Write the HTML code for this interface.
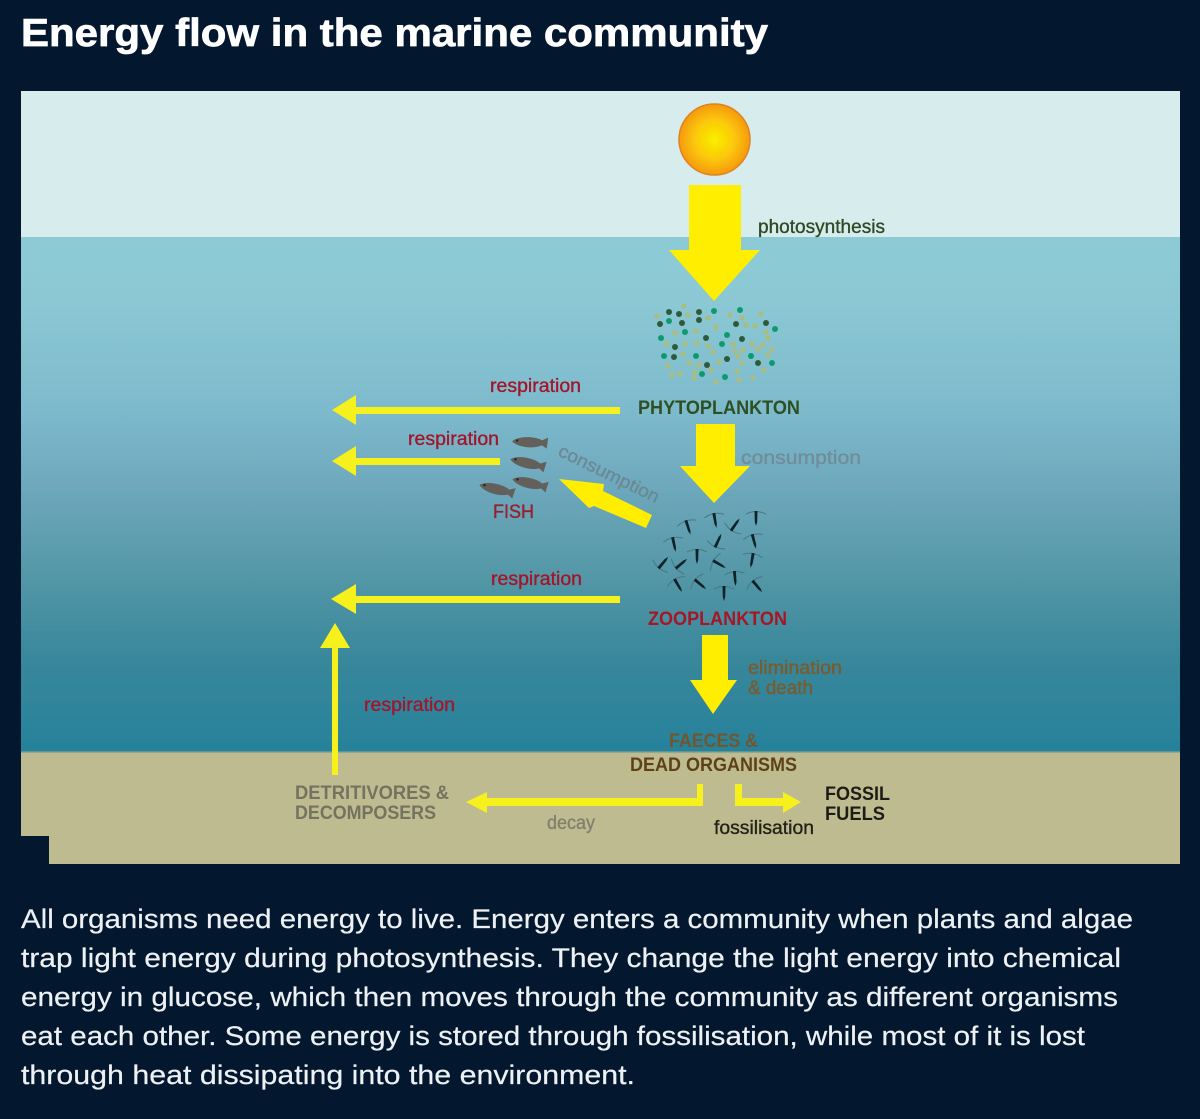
<!DOCTYPE html>
<html><head><meta charset="utf-8"><style>
html,body{margin:0;padding:0;background:#03182f;width:1200px;height:1119px;overflow:hidden}
svg{display:block}
text{font-family:"Liberation Sans",sans-serif}
.b{font-weight:bold}
.m{stroke-width:.35px}
.p{font-size:26.5px;fill:#eef1f4;stroke:#eef1f4;stroke-width:.2px}
</style></head><body>
<svg width="1200" height="1119" viewBox="0 0 1200 1119" xmlns="http://www.w3.org/2000/svg">
<defs>
<linearGradient id="w" gradientUnits="userSpaceOnUse" x1="0" y1="237" x2="0" y2="752">
<stop offset="0" stop-color="#8ccbd6"/><stop offset=".13" stop-color="#8bc8d4"/><stop offset=".345" stop-color="#7cb9cc"/><stop offset=".475" stop-color="#6fa9bd"/><stop offset=".65" stop-color="#5598a8"/><stop offset=".82" stop-color="#38879b"/><stop offset="1" stop-color="#26829b"/>
</linearGradient>
<radialGradient id="s"><stop offset="0" stop-color="#f8f000"/><stop offset=".55" stop-color="#fcc808"/><stop offset="1" stop-color="#f59a0c"/></radialGradient>
<filter id="bl" x="0" y="0" width="1" height="1"><feGaussianBlur stdDeviation=".35"/></filter>
<g id="fish"><path d="M-18 0C-12-6 6-6 12-2L18-5 17 6 12 3C4 7-12 6-18 0Z" fill="#635f5a"/><circle cx="-13" cy="-1" r="1.200" fill="#1d2a2a"/></g>
<g id="z"><path d="M-10-4Q0-9 10-4" fill="none" stroke="#4a7784" stroke-width="1"/><path d="M-1.500-7L1.500-7 1.200 4 0 8-1.200 4Z" fill="#10242a"/></g>
</defs>
<rect width="1200" height="1119" fill="#03182f"/>
<text x="21" y="46" font-size="39" font-weight="bold" fill="#fff" stroke="#fff" stroke-width=".7" textLength="747" lengthAdjust="spacingAndGlyphs">Energy flow in the marine community</text>

<g filter="url(#bl)">
<rect x="21" y="91" width="1159" height="147" fill="#d7ecec"/>
<rect x="21" y="237" width="1159" height="516" fill="url(#w)"/>
<path d="M21 752H1180V864H49V836H21Z" fill="#bfbb91"/>
<rect x="21" y="751" width="1159" height="1.500" fill="#5f9490"/>

<circle cx="714.500" cy="139.500" r="35.500" fill="url(#s)" stroke="#dd8420" stroke-width="1.500"/>

<g fill="#ffee00">
<polygon points="689,185 741,185 741,250 760,250 714,301 669,250 689,250"/>
<polygon points="696,424 735,424 735,466 750,466 714,503 680,466 696,466"/>
<polygon points="559,479 604,484 603,491 652,515 646,528 594,506 589,508"/>
<polygon points="702,635 728,635 728,680 737,680 713,714 690,680 702,680"/>
</g>
<g fill="#f6f01c">
<polygon points="620,407 620,414 356,414 356,425 332,410 356,395 356,407"/>
<polygon points="500,458 500,465 356,465 356,476 332,461 356,446 356,458"/>
<polygon points="620,596 620,603 356,603 356,614 331,599 356,584 356,596"/>
<polygon points="332,775 338,775 338,648 350,648 335,623 320,648 332,648"/>
<polygon points="697,784 703,784 703,806 487,806 487,813 466,802 487,792 487,798 697,798"/>
<polygon points="735,784 742,784 742,798 783,798 783,792 801,802 783,813 783,806 735,806"/>
</g>

<g fill="#2f5a3a"><circle cx="669" cy="312" r="3"/><circle cx="679" cy="314" r="3"/><circle cx="699" cy="312" r="3"/><circle cx="660" cy="324" r="3"/><circle cx="682" cy="323" r="3"/><circle cx="699" cy="320" r="3"/><circle cx="736" cy="324" r="3"/><circle cx="766" cy="323" r="3"/><circle cx="706" cy="338" r="3"/><circle cx="742" cy="339" r="3"/><circle cx="675" cy="347" r="3"/><circle cx="674" cy="357" r="3"/><circle cx="727" cy="359" r="3"/><circle cx="758" cy="363" r="3"/><circle cx="707" cy="365" r="3"/></g>
<g fill="#0e9a70"><circle cx="714" cy="311" r="3"/><circle cx="740" cy="310" r="3"/><circle cx="669" cy="321" r="3"/><circle cx="775" cy="329" r="3"/><circle cx="685" cy="332" r="3"/><circle cx="661" cy="338" r="3"/><circle cx="727" cy="335" r="3"/><circle cx="722" cy="344" r="3"/><circle cx="664" cy="356" r="3"/><circle cx="696" cy="356" r="3"/><circle cx="751" cy="356" r="3"/><circle cx="772" cy="363" r="3"/><circle cx="702" cy="374" r="3"/><circle cx="725" cy="377" r="3"/></g>
<g fill="#a8bd86"><circle cx="684" cy="306" r="2.800"/><circle cx="657" cy="316" r="2.800"/><circle cx="688" cy="315" r="2.800"/><circle cx="708" cy="318" r="2.800"/><circle cx="730" cy="315" r="2.800"/><circle cx="742" cy="318" r="2.800"/><circle cx="761" cy="314" r="2.800"/><circle cx="675" cy="333" r="2.800"/><circle cx="696" cy="331" r="2.800"/><circle cx="716" cy="327" r="2.800"/><circle cx="746" cy="325" r="2.800"/><circle cx="755" cy="326" r="2.800"/><circle cx="766" cy="332" r="2.800"/><circle cx="768" cy="338" r="2.800"/><circle cx="667" cy="344" r="2.800"/><circle cx="685" cy="344" r="2.800"/><circle cx="697" cy="343" r="2.800"/><circle cx="708" cy="346" r="2.800"/><circle cx="733" cy="344" r="2.800"/><circle cx="752" cy="344" r="2.800"/><circle cx="763" cy="345" r="2.800"/><circle cx="772" cy="349" r="2.800"/><circle cx="683" cy="354" r="2.800"/><circle cx="713" cy="352" r="2.800"/><circle cx="735" cy="351" r="2.800"/><circle cx="743" cy="350" r="2.800"/><circle cx="758" cy="349" r="2.800"/><circle cx="768" cy="355" r="2.800"/><circle cx="668" cy="366" r="2.800"/><circle cx="689" cy="363" r="2.800"/><circle cx="699" cy="365" r="2.800"/><circle cx="719" cy="362" r="2.800"/><circle cx="738" cy="356" r="2.800"/><circle cx="742" cy="363" r="2.800"/><circle cx="764" cy="370" r="2.800"/><circle cx="672" cy="375" r="2.800"/><circle cx="680" cy="374" r="2.800"/><circle cx="695" cy="372" r="2.800"/><circle cx="711" cy="370" r="2.800"/><circle cx="737" cy="371" r="2.800"/><circle cx="753" cy="378" r="2.800"/><circle cx="694" cy="378" r="2.800"/><circle cx="716" cy="382" r="2.800"/><circle cx="739" cy="380" r="2.800"/></g>

<use href="#fish" transform="translate(530 442) rotate(2)"/>
<use href="#fish" transform="translate(528 463) rotate(12)"/>
<use href="#fish" transform="translate(530 483) rotate(12)"/>
<use href="#fish" transform="translate(497 489) rotate(13)"/>

<use href="#z" transform="translate(688 527) rotate(-18)"/>
<use href="#z" transform="translate(715 520) rotate(-10)"/>
<use href="#z" transform="translate(735 525) rotate(-145)"/>
<use href="#z" transform="translate(756 518)"/>
<use href="#z" transform="translate(674 544) rotate(-12)"/>
<use href="#z" transform="translate(718 541) rotate(-155)"/>
<use href="#z" transform="translate(754 541) rotate(-15)"/>
<use href="#z" transform="translate(697 556)"/>
<use href="#z" transform="translate(663 563) rotate(-140)"/>
<use href="#z" transform="translate(681 564) rotate(-130)"/>
<use href="#z" transform="translate(719 564) rotate(-60)"/>
<use href="#z" transform="translate(752 560) rotate(10)"/>
<use href="#z" transform="translate(735 578) rotate(-5)"/>
<use href="#z" transform="translate(678 585) rotate(-30)"/>
<use href="#z" transform="translate(700 584) rotate(-50)"/>
<use href="#z" transform="translate(757 586) rotate(-40)"/>
<use href="#z" transform="translate(724 593)"/>

<g font-size="19">
<text class="m" x="758" y="233" fill="#2f4a26" stroke="#2f4a26" textLength="127" lengthAdjust="spacingAndGlyphs">photosynthesis</text>
<text x="638" y="414" fill="#2f5020" class="b" textLength="162" lengthAdjust="spacingAndGlyphs">PHYTOPLANKTON</text>
<text class="m" x="490" y="392" fill="#a3142a" stroke="#a3142a" textLength="91" lengthAdjust="spacingAndGlyphs">respiration</text>
<text class="m" x="408" y="445" fill="#a3142a" stroke="#a3142a" textLength="91" lengthAdjust="spacingAndGlyphs">respiration</text>
<text class="m" x="491" y="585" fill="#a3142a" stroke="#a3142a" textLength="91" lengthAdjust="spacingAndGlyphs">respiration</text>
<text class="m" x="364" y="711" fill="#a3142a" stroke="#a3142a" textLength="91" lengthAdjust="spacingAndGlyphs">respiration</text>
<text class="m" x="741" y="464" fill="#6f8d99" stroke="#6f8d99" textLength="120" lengthAdjust="spacingAndGlyphs">consumption</text>
<text class="m" transform="translate(557 455) rotate(26)" fill="#6b8995" stroke="#6b8995" font-size="18" textLength="110" lengthAdjust="spacingAndGlyphs">consumption</text>
<text class="m" x="493" y="518" fill="#96202f" stroke="#96202f" textLength="41" lengthAdjust="spacingAndGlyphs">FISH</text>
<text x="648" y="625" fill="#a51525" class="b" textLength="139" lengthAdjust="spacingAndGlyphs">ZOOPLANKTON</text>
<text class="m" x="748" y="674" fill="#7d5a2a" stroke="#7d5a2a" textLength="94" lengthAdjust="spacingAndGlyphs">elimination</text>
<text class="m" x="748" y="694" fill="#7d5a2a" stroke="#7d5a2a" textLength="65" lengthAdjust="spacingAndGlyphs">&amp; death</text>
<text x="669" y="747" fill="#73552f" class="b" textLength="89" lengthAdjust="spacingAndGlyphs">FAECES &amp;</text>
<text x="630" y="771" fill="#5d4318" class="b" textLength="167" lengthAdjust="spacingAndGlyphs">DEAD ORGANISMS</text>
<text x="295" y="799" fill="#73735f" class="b" textLength="154" lengthAdjust="spacingAndGlyphs">DETRITIVORES &amp;</text>
<text x="295" y="819" fill="#73735f" class="b" textLength="141" lengthAdjust="spacingAndGlyphs">DECOMPOSERS</text>
<text class="m" x="547" y="829" fill="#80806f" stroke="#80806f" textLength="48" lengthAdjust="spacingAndGlyphs">decay</text>
<text class="m" x="714" y="834" fill="#222218" stroke="#222218" textLength="100" lengthAdjust="spacingAndGlyphs">fossilisation</text>
<text x="825" y="800" fill="#1c1c14" class="b" textLength="65" lengthAdjust="spacingAndGlyphs">FOSSIL</text>
<text x="825" y="820" fill="#1c1c14" class="b" textLength="60" lengthAdjust="spacingAndGlyphs">FUELS</text>
</g>
</g>

<text class="p" x="21" y="928" textLength="1112" lengthAdjust="spacingAndGlyphs">All organisms need energy to live. Energy enters a community when plants and algae</text>
<text class="p" x="21" y="967" textLength="1100" lengthAdjust="spacingAndGlyphs">trap light energy during photosynthesis. They change the light energy into chemical</text>
<text class="p" x="21" y="1006" textLength="1097" lengthAdjust="spacingAndGlyphs">energy in glucose, which then moves through the community as different organisms</text>
<text class="p" x="21" y="1045" textLength="1064" lengthAdjust="spacingAndGlyphs">eat each other. Some energy is stored through fossilisation, while most of it is lost</text>
<text class="p" x="21" y="1084" textLength="614" lengthAdjust="spacingAndGlyphs">through heat dissipating into the environment.</text>
</svg>
</body></html>
